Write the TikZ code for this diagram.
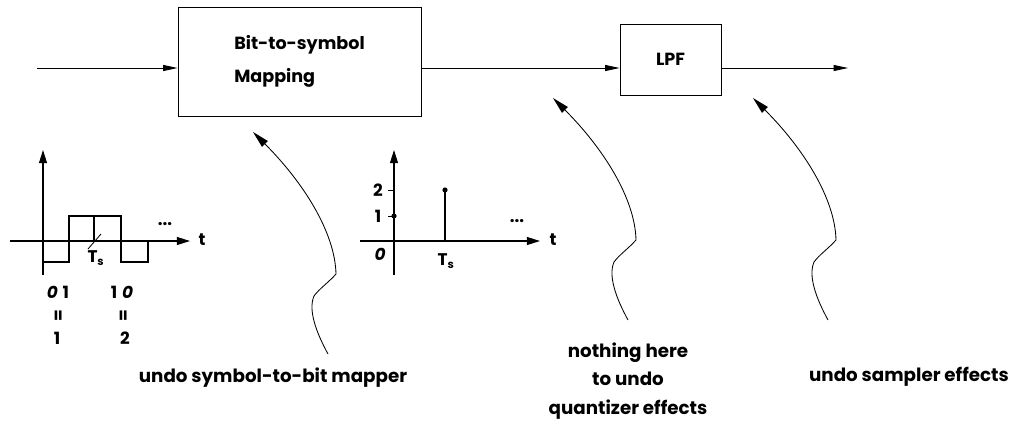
\documentclass[tikz,border=0pt]{standalone}
\usepackage{fontspec}
\setmainfont{Poppins}
\usetikzlibrary{arrows.meta, positioning}

\begin{document}
\begin{tikzpicture}[
  x=0.025cm, y=-0.025cm,
  blk/.style={rectangle, draw, line width=0.6pt, inner sep=0pt},
  lbl/.style={font=\bfseries\fontsize{13}{20.5}\selectfont, align=center},
  num/.style={font=\bfseries\fontsize{12}{14}\selectfont, inner sep=1pt},
  flow/.style={-{Triangle[length=0.36cm, width=0.15cm]}, line width=0.6pt},
  axis/.style={-{Triangle[length=0.33cm, width=0.2cm]}, line width=0.9pt},
  sig/.style={line width=1.4pt},
  undo/.style={-{Triangle[length=0.42cm, width=0.2cm]}, line width=0.6pt},
  dot/.style={circle, fill, inner sep=0pt, minimum size=0.13cm}
]
\useasboundingbox (0,0) rectangle (1018,423);

% chain
\node[blk, minimum width=6.075cm, minimum height=2.725cm, align=left,
      font=\bfseries\fontsize{12.5}{23}\selectfont] (map) at (299.5,61.5) {Bit-to-symbol\\Mapping};
\node[blk, minimum width=2.525cm, minimum height=1.775cm,
      font=\bfseries\fontsize{12.5}{14}\selectfont] (lpf) at (670.5,59.5) {LPF};
\coordinate (in) at (37,68);
\coordinate (out) at (848,68);
\draw[flow] (in) -- (in -| map.west);
\draw[flow] (in -| map.east) -- (in -| lpf.west);
\draw[flow] (in -| lpf.east) -- (out);

% notes
\node[lbl] (mapnote) at (273,378) {undo symbol-to-bit mapper};
\node[lbl] (qnote) at (628,381) {nothing here\\to undo\\quantizer effects};
\node[lbl] (snote) at (909,377) {undo sampler effects};

\coordinate (t1) at (253,132);
\coordinate (t2) at (553,98);
\coordinate (t3) at (753,98);
\foreach \t in {t1,t2,t3}
  \draw[undo, shift={(\t)}] (75,222) .. controls (63,200) and (55,178) .. (61,164)
    .. controls (66,157) and (76,150) .. (83,142)
    .. controls (82,100) and (50,50) .. (0,0);

% bit waveform
\draw[axis] (10,241) -- (190,241);
\draw[axis] (43,275) -- (43,150);
\draw[sig] (43,262) -- (69,262) -- (69,216) -- (121,216) -- (121,262)
  -- (148,262) -- (148,241);
\draw[sig] (94,216) -- (94,241);
\draw[line width=0.6pt] (88,249) -- (101,234);
\node[num] (ta) at (202,240) {t};
\node[num] (da) at (165,224) {...};
\node[num] (tsa) at (96,258) {T\textsubscript{s}};
\node[num] (b01) at (58,292) {{\itshape 0}\hspace{0.12cm}1};
\node[num] (b10) at (122,292) {1\hspace{0.12cm}{\itshape 0}};
\node[num, rotate=90] (eqa) at (60,316) {=};
\node[num, rotate=90] (eqb) at (125,316) {=};
\node[num] (sa) at (57,338) {1};
\node[num] (sb) at (125,338) {2};

% symbol samples
\draw[axis] (360,241) -- (540,241);
\draw[axis] (394,275) -- (394,150);
\draw[line width=0.6pt] (388,190) -- (394,190);
\draw[line width=0.6pt] (388,216) -- (394,216);
\draw[sig] (394,241) -- (394,216) node[dot] (s0) {};
\draw[sig] (445,241) -- (445,190) node[dot] (s1) {};
\node[num] (tb) at (553,240) {t};
\node[num] (db) at (517,221) {...};
\node[num] (two) at (378,190) {2};
\node[num] (one) at (378,216) {1};
\node[num] (zero) at (380,254) {\itshape 0};
\node[num] (tsb) at (446,261) {T\textsubscript{s}};
\end{tikzpicture}
\end{document}
